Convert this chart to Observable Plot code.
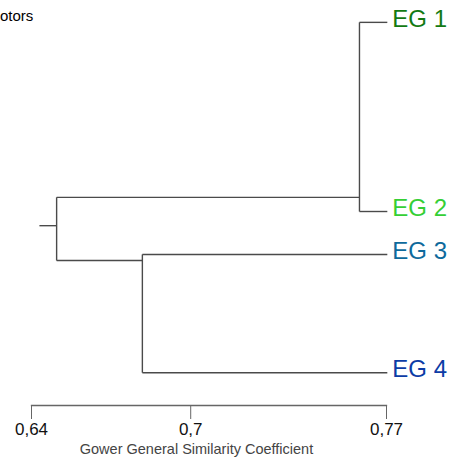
<!DOCTYPE html>
<html><head><meta charset="utf-8">
<script src="https://cdn.jsdelivr.net/npm/d3@7"></script>
<script src="https://cdn.jsdelivr.net/npm/@observablehq/plot@0.6"></script>
<style>
html,body{margin:0;padding:0;background:#fff;}
#chart{position:relative;width:453px;height:463px;overflow:hidden;font-family:"Liberation Sans",Arial,sans-serif;}
#corner{position:absolute;left:0;top:7px;font-size:15px;line-height:17px;color:#000;}
</style></head><body>
<div id="chart"><div id="corner"></div></div>
<script>
// Leaves (top to bottom)
const leafLabels = ["EG 1", "EG 2", "EG 3", "EG 4"];
const leafColors = ["#137a13", "#35cf35", "#0e6a9c", "#0c3ca6"];
const leafPos = [5.4, 52.1, 62.7, 91.9];      // vertical position, 0 = top, 100 = axis
const leafSim = 0.7703;                        // similarity at leaf tips
// Clusters
const clusterSim = [0.7601, 0.6806];           // merge similarity
const clusterChildren = [[0, 1], [2, 3]];
const clusterAttach = [48.6, 64.2];            // vertical position where the root branch joins
// Root
const rootSim = 0.6492;
const rootStubSim = 0.6429;
const rootStubPos = 55.6;
// Axis
const tickValues = [0.64, 0.6983, 0.77];
const tickLabels = ["0,64", "0,7", "0,77"];
const axisTitle = "Gower General Similarity Coefficient";
const cornerText = "otors";

document.getElementById("corner").textContent = cornerText;

// Build segments of the dendrogram
const segments = [];
clusterChildren.forEach((kids, c) => {
  segments.push({x1: clusterSim[c], y1: leafPos[kids[0]], x2: clusterSim[c], y2: leafPos[kids[1]]});
  kids.forEach(k => segments.push({x1: clusterSim[c], y1: leafPos[k], x2: leafSim, y2: leafPos[k]}));
  segments.push({x1: rootSim, y1: clusterAttach[c], x2: clusterSim[c], y2: clusterAttach[c]});
});
segments.push({x1: rootSim, y1: clusterAttach[0], x2: rootSim, y2: clusterAttach[1]});
segments.push({x1: rootStubSim, y1: rootStubPos, x2: rootSim, y2: rootStubPos});

const leaves = leafLabels.map((label, i) => ({label, color: leafColors[i], pos: leafPos[i], sim: leafSim}));

const chart = Plot.plot({
  width: 453,
  height: 463,
  marginLeft: 31,
  marginRight: 67,
  marginTop: 0,
  marginBottom: 58,
  style: {fontFamily: "'Liberation Sans', Arial, sans-serif", background: "white", overflow: "visible"},
  x: {domain: [0.64, 0.77]},
  y: {domain: [0, 100], reverse: true, axis: null},
  color: {type: "identity"},
  marks: [
    Plot.frame({anchor: "bottom", stroke: "#666", strokeWidth: 1.3}),
    Plot.axisX(tickValues, {
      anchor: "bottom", tickSize: 14, tickPadding: 3, stroke: "#666", fill: "#111",
      fontSize: 17, tickFormat: d => tickLabels[tickValues.indexOf(d)], label: null
    }),
    Plot.text([axisTitle], {frameAnchor: "bottom", dy: 48, dx: -12.5, fontSize: 14.5, fill: "#444"}),
    Plot.link(segments, {x1: "x1", y1: "y1", x2: "x2", y2: "y2", stroke: "#4a4a4a", strokeWidth: 1.4}),
    Plot.text(leaves, {x: "sim", y: "pos", text: "label", fill: "color", textAnchor: "start", dx: 5, dy: -3, fontSize: 24})
  ]
});
document.getElementById("chart").appendChild(chart);
</script>
</body></html>
